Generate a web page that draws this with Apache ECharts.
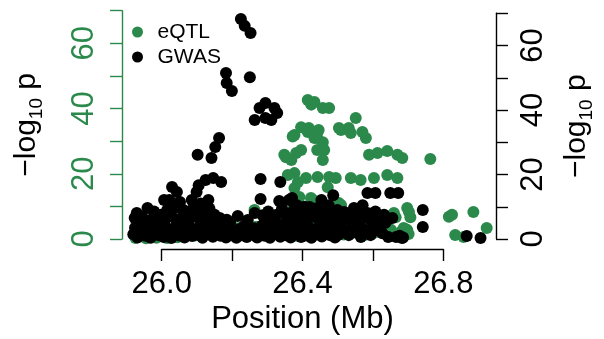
<!DOCTYPE html>
<html><head><meta charset="utf-8">
<script src="https://cdn.jsdelivr.net/npm/echarts@6.0.0/dist/echarts.min.js"></script>
<style>html,body{margin:0;padding:0;background:#fff}#c{width:604px;height:339px}</style>
</head><body><div id="c"></div>
<script>
const eqtlPos = [
26.412,26.431,26.455,26.473,26.549,26.507,26.535,26.568,26.578,26.529,
26.501,26.443,26.415,26.439,26.455,26.459,26.439,26.455,26.393,26.374,
26.412,26.440,26.431,26.393,26.379,26.350,26.365,26.345,26.369,26.587,
26.611,26.639,26.668,26.682,26.762,26.355,26.374,26.407,26.440,26.473,
26.384,26.492,26.535,26.563,26.601,26.639,26.668,26.469,26.374,26.388,
26.421,26.501,26.369,26.393,26.355,26.701,26.705,26.824,26.885,26.833,
26.857,26.923,26.501,26.686,26.663,26.696,26.289,26.265,26.232,26.317,
26.260,26.299,26.379,26.398,26.426,26.507,26.487,26.540,26.658,26.696,
26.203,26.815,26.422,
25.920,25.935,25.950,25.965,25.980,25.995,26.010,26.025,26.040,26.055,
26.066,26.080,26.090,26.103,26.115,26.125,26.137,26.150,26.160,26.175,
26.190,26.200,26.215,26.232,26.245,26.265,26.280,26.289,26.300,26.317,
26.330,26.336,26.350,26.365,26.380,26.395,26.410,26.425,26.440,26.455,
26.470,26.485,26.500,26.515,26.530,26.545,26.560,26.575,26.590,26.605,
26.620,26.635,26.650,26.665,26.680,26.700
];
const eqtlLogP = [
42.6,42.0,40.2,40.2,37.1,33.4,32.5,32.8,31.0,34.0,
34.0,33.4,34.0,31.0,29.7,27.3,27.3,24.2,34.3,31.9,
32.8,32.8,31.0,27.3,26.4,25.1,24.2,25.8,31.4,25.8,
26.4,27.0,25.8,24.8,24.5,19.6,20.2,18.7,19.0,19.0,
17.5,18.7,18.7,18.1,18.7,19.6,18.7,15.9,15.6,12.9,
12.6,11.0,8.9,7.4,7.4,8.3,6.7,7.4,8.3,1.2,
0.6,3.4,5.2,3.4,6.7,2.8,4.9,3.7,3.7,4.9,
8.9,5.8,13.0,9.9,12.0,10.4,5.2,3.7,8.0,9.5,
3.4,6.8,41.2,
0.3,1.5,0.2,1.8,0.4,2.2,0.3,1.9,0.5,3.0,
3.8,2.5,1.1,4.0,2.8,1.5,4.0,3.2,1.8,3.5,
2.4,1.0,3.3,3.7,2.2,3.7,1.5,4.9,2.8,4.9,
1.2,4.9,2.5,3.5,1.0,3.0,4.5,2.0,3.8,1.5,
4.2,2.3,3.0,1.4,3.6,2.0,4.0,1.2,3.2,2.1,
3.8,1.5,2.8,1.0,2.4,1.5
];
const gwasPos = [
26.231,26.242,26.259,26.188,26.190,26.205,26.257,26.285,26.302,26.328,
26.336,26.271,26.302,26.319,26.168,26.157,26.146,26.106,26.032,26.046,
26.024,26.109,26.129,26.151,26.174,26.103,26.137,26.089,26.009,26.018,
26.043,26.103,26.132,25.961,25.930,25.987,26.080,26.009,25.924,26.063,
26.075,26.288,26.345,26.288,26.271,26.342,26.370,26.384,26.379,26.393,
26.430,26.464,26.498,26.345,26.407,26.444,26.478,26.200,26.149,26.597,
26.620,26.663,26.686,26.757,26.757,26.530,26.558,26.583,26.597,26.626,
26.654,26.507,26.541,26.569,26.614,26.649,26.669,26.512,26.543,26.578,
26.606,26.657,26.697,26.884,26.924,26.422,26.456,26.492,26.365,26.322,
26.294,26.251,26.222,
25.935,25.945,25.955,25.970,25.980,25.995,26.000,26.015,26.030,26.035,
26.050,26.055,26.065,26.070,26.085,26.095,26.100,26.115,26.120,26.125,
26.140,26.155,26.160,26.170,26.180,26.190,
26.300,26.310,26.335,26.350,26.360,26.375,26.400,26.415,26.420,26.435,
26.450,26.460,26.470,26.485,26.490,26.510,26.520,26.535,26.550,26.565,
26.575,26.590,26.605,26.620,26.635,26.645,
25.920,25.925,25.932,25.940,25.948,25.955,25.963,25.970,25.978,25.985,
25.993,26.000,26.008,26.015,26.022,26.030,26.038,26.045,26.052,26.060,
26.068,26.075,26.083,26.090,26.098,26.105,26.113,26.120,26.128,26.135,
26.143,26.150,26.158,26.165,26.172,26.180,26.188,26.195,26.203,26.210,
26.218,26.225,26.233,26.240,26.248,26.255,26.263,26.270,26.278,26.285,
26.293,26.300,26.308,26.315,26.323,26.330,26.338,26.345,26.353,26.360,
26.368,26.375,26.383,26.390,26.398,26.405,26.413,26.420,26.428,26.435,
26.443,26.450,26.458,26.465,26.473,26.480,26.488,26.495,26.503,26.520,
26.530,26.550,26.560,26.585,26.595,26.625,26.640,26.680,26.700,26.690
];
const gwasLogP = [
68.2,66.1,63.9,51.5,48.4,45.9,50.2,40.6,42.2,40.6,
39.1,36.9,37.5,36.9,31.3,28.5,25.1,26.1,16.1,14.6,
12.1,16.7,18.3,18.9,17.7,14.6,12.1,12.1,12.1,9.0,
9.6,9.9,6.8,9.6,8.1,6.8,8.1,5.9,6.5,6.8,
4.3,18.6,17.7,12.4,8.1,11.8,12.1,9.0,12.7,10.5,
9.9,12.1,13.6,4.3,5.9,6.8,5.9,5.3,5.9,14.3,
14.3,14.3,14.3,9.0,3.7,8.4,9.6,10.5,8.1,6.8,
5.9,6.8,6.5,6.8,4.3,5.0,6.5,1.2,1.2,0.6,
1.2,0.6,0.3,0.9,0.3,8.1,9.0,8.4,7.4,6.5,
7.4,5.9,7.1,
5.0,7.0,5.5,6.0,8.5,5.0,7.5,6.5,7.0,11.0,
6.0,11.5,9.0,5.5,6.5,10.0,7.0,11.0,8.5,5.5,
9.5,7.5,5.0,6.5,5.5,6.0,
5.5,8.5,7.5,9.5,5.0,6.0,7.5,10.0,5.5,7.0,
9.5,5.0,7.5,10.5,5.5,9.0,5.0,7.5,6.0,9.0,
5.0,7.0,6.0,8.5,5.0,7.5,
1.5,3.5,0.5,2.4,4.2,1.0,3.0,0.4,2.2,4.0,
1.2,2.8,0.6,3.6,1.8,0.3,2.6,4.4,1.1,3.1,
0.5,2.0,3.8,0.9,2.5,1.4,4.1,0.4,2.9,1.6,
3.4,0.7,2.3,4.0,1.0,2.7,0.5,3.2,1.5,2.2,
0.4,3.0,1.2,4.0,0.6,2.5,1.3,3.3,0.5,2.1,
4.2,1.0,2.8,0.4,3.5,1.6,2.4,0.7,3.9,1.2,
2.6,0.5,3.1,1.8,4.3,0.6,2.2,1.1,3.6,0.4,
2.7,1.5,3.3,0.8,2.0,4.0,1.2,2.9,0.5,3.2,
2.0,3.5,2.2,3.0,2.5,2.8,1.8,0.6,0.5,1.0
];
const xTickValues = [26.0, 26.2, 26.4, 26.6, 26.8];
const xTickLabels = ['26.0', '', '26.4', '', '26.8'];
const yTickLabels = [0, 20, 40, 60];
const seriesNames = ['eQTL', 'GWAS'];

const GREEN = '#2b8a4b';
const FONT = 'Liberation Sans, Arial, sans-serif';
const chart = echarts.init(document.getElementById('c'), null, {renderer: 'canvas'});
const xLabelFmt = v => {
  const i = xTickValues.findIndex(t => Math.abs(t - v) < 1e-6);
  return i >= 0 ? xTickLabels[i] : '';
};
const yLabelFmt = v => yTickLabels.some(t => Math.abs(t - v) < 1e-6) ? String(Math.round(v)) : '';
const nameStyle = {
  fontSize: 30, color: '#000', fontFamily: FONT, lineHeight: 30,
  rich: { s: { fontSize: 19, fontFamily: FONT, color: '#000', lineHeight: 38, verticalAlign: 'bottom' } }
};
const X0 = 25.8815, X1 = 26.9687;
const SYM = 12;
chart.setOption({
  animation: false,
  backgroundColor: '#fff',
  textStyle: { fontFamily: FONT },
  grid: [
    { left: 120, top: 10.7, width: 382.7, height: 228.3 },
    { left: 120, top: 13.3, width: 382.7, height: 225.7 },
    { left: 161.7, top: 239, width: 281.6, height: 10 }
  ],
  legend: {
    orient: 'vertical', left: 127, top: 16, itemWidth: 30, itemHeight: 11, itemGap: 3,
    icon: 'circle', data: seriesNames,
    textStyle: { fontSize: 21, color: '#000', fontFamily: FONT, lineHeight: 22 }
  },
  xAxis: [
    { gridIndex: 0, type: 'value', min: X0, max: X1, show: false },
    { gridIndex: 1, type: 'value', min: X0, max: X1, show: false },
    { gridIndex: 2, type: 'value', min: 26.0, max: 26.8, interval: 0.2, position: 'bottom',
      axisLine: { show: true, lineStyle: { color: '#000', width: 1.4 } },
      axisTick: { show: true, length: 12, lineStyle: { color: '#000', width: 1.4 } },
      axisLabel: { formatter: xLabelFmt, fontSize: 31, color: '#000', margin: 20, fontFamily: FONT, showMinLabel: true, showMaxLabel: true },
      splitLine: { show: false },
      name: 'Position (Mb)', nameLocation: 'middle', nameGap: 55,
      nameTextStyle: { fontSize: 31, color: '#000', fontFamily: FONT } }
  ],
  yAxis: [
    { gridIndex: 0, type: 'value', min: 0, max: 70, interval: 10, position: 'left',
      axisLine: { show: true, lineStyle: { color: GREEN, width: 1.4 } },
      axisTick: { show: true, length: 12, lineStyle: { color: GREEN, width: 1.4 } },
      axisLabel: { formatter: yLabelFmt, rotate: 90, fontSize: 31, color: GREEN, margin: 22, fontFamily: FONT, showMaxLabel: true },
      splitLine: { show: false },
      name: '−log{s|10} p', nameLocation: 'middle', nameGap: 76, nameTextStyle: nameStyle },
    { gridIndex: 1, type: 'value', min: 0, max: 70, interval: 10, position: 'right',
      axisLine: { show: true, lineStyle: { color: '#000', width: 1.4 } },
      axisTick: { show: true, length: 12, lineStyle: { color: '#000', width: 1.4 } },
      axisLabel: { formatter: yLabelFmt, rotate: 90, fontSize: 31, color: '#000', margin: 22, fontFamily: FONT, showMaxLabel: true },
      splitLine: { show: false },
      name: '−log{s|10} p', nameLocation: 'middle', nameGap: 62, nameTextStyle: nameStyle },
    { gridIndex: 2, type: 'value', show: false }
  ],
  series: [
    { name: seriesNames[0], type: 'scatter', xAxisIndex: 0, yAxisIndex: 0, symbol: 'circle', symbolSize: SYM,
      itemStyle: { color: GREEN, opacity: 1 }, data: eqtlPos.map((x, i) => [x, eqtlLogP[i]]) },
    { name: seriesNames[1], type: 'scatter', xAxisIndex: 1, yAxisIndex: 1, symbol: 'circle', symbolSize: SYM,
      itemStyle: { color: '#000', opacity: 1 }, data: gwasPos.map((x, i) => [x, gwasLogP[i]]) }
  ]
});
</script>
</body></html>
